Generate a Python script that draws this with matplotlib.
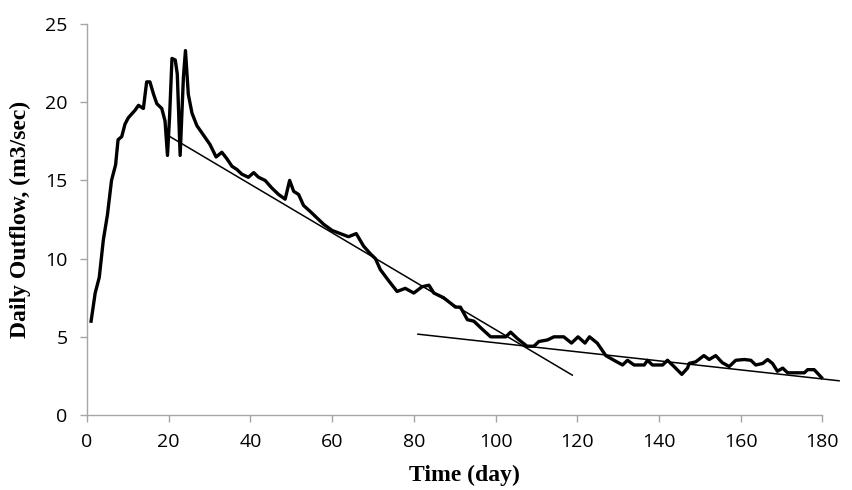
import matplotlib
matplotlib.use('Agg')
import matplotlib.pyplot as plt

GRAY = '#a6a6a6'

# daily outflow
days = [1, 2, 3, 4, 5, 6, 7, 7.6, 8.5, 9.3, 10.1, 11.8, 12.6, 13.8, 14.6, 15.4,
        16.3, 17.1, 18.3, 19.1, 19.7, 20.2, 20.8, 21.6, 22.1, 22.8, 23.6, 24.1,
        24.8, 25.7, 26.9, 28.5, 30.1, 31.6, 33.0, 34.2, 35.5, 36.7, 37.9, 39.5,
        40.8, 42.0, 43.6, 45.3, 46.9, 48.5, 49.6, 50.6, 51.8, 53.0, 54.7, 56.3,
        57.9, 60.0, 62.0, 64.0, 65.9, 67.7, 69.4, 70.6, 71.8, 73.8, 75.9, 77.9,
        80.0, 82.0, 83.7, 84.9, 87.3, 90.2, 91.4, 93.1, 94.7, 96.7, 98.8, 101.2,
        102.5, 103.7, 105.3, 107.7, 109.4, 110.6, 112.7, 114.3, 116.7, 118.6,
        120.2, 121.9, 123.0, 124.9, 127.0, 129.0, 131.1, 132.3, 133.9, 136.4,
        137.2, 138.4, 140.9, 142.1, 143.7, 145.6, 147.0, 147.4, 149.0, 151.0,
        152.3, 153.9, 155.5, 157.2, 158.8, 160.9, 162.5, 163.7, 165.4, 166.6,
        167.8, 169.0, 170.3, 171.5, 175.6, 176.4, 178.0, 179.8]
outflow = [6.0, 7.8, 8.8, 11.2, 12.8, 15.0, 16.0, 17.6, 17.8, 18.6, 19.0, 19.5,
           19.8, 19.6, 21.3, 21.3, 20.5, 19.9, 19.6, 18.8, 16.6, 19.0, 22.8, 22.7,
           21.8, 16.6, 21.6, 23.3, 20.5, 19.3, 18.5, 17.9, 17.3, 16.5, 16.8, 16.4,
           15.9, 15.7, 15.4, 15.2, 15.5, 15.2, 15.0, 14.5, 14.1, 13.8, 15.0, 14.3,
           14.1, 13.4, 13.0, 12.6, 12.2, 11.8, 11.6, 11.4, 11.6, 10.8, 10.3, 10.0,
           9.3, 8.6, 7.9, 8.1, 7.8, 8.2, 8.3, 7.8, 7.5, 6.9, 6.9, 6.1, 6.0, 5.5,
           5.0, 5.0, 5.0, 5.3, 4.9, 4.4, 4.4, 4.7, 4.8, 5.0, 5.0, 4.6, 5.0, 4.6,
           5.0, 4.6, 3.8, 3.5, 3.2, 3.5, 3.2, 3.2, 3.5, 3.2, 3.2, 3.5, 3.1, 2.6,
           3.0, 3.3, 3.4, 3.8, 3.55, 3.8, 3.35, 3.1, 3.5, 3.55, 3.5, 3.2, 3.3,
           3.55, 3.3, 2.8, 3.0, 2.7, 2.7, 2.9, 2.9, 2.4]

# recession trend lines (start / end)
trend1_x = [20.3, 118.8]
trend1_y = [17.8, 2.55]
trend2_x = [81.0, 184.1]
trend2_y = [5.17, 2.19]

xticks = list(range(0, 181, 20))
yticks = [0, 5, 10, 15, 20, 25]

fig = plt.figure(figsize=(8.53, 4.90), dpi=100)
ax = fig.add_axes([0.102, 0.153, 0.886, 0.798])

ax.plot(days, outflow, color='black', lw=2.4, solid_joinstyle='round')
ax.plot(trend1_x, trend1_y, color='black', lw=1.1)
ax.plot(trend2_x, trend2_y, color='black', lw=1.1)

ax.set_xlim(0, 185)
ax.set_ylim(0, 25)
ax.set_xticks(xticks)
ax.set_yticks(yticks)
for s in ['top', 'right']:
    ax.spines[s].set_visible(False)
for s in ['left', 'bottom']:
    ax.spines[s].set_color(GRAY)
    ax.spines[s].set_linewidth(1.0)
ax.spines['bottom'].set_bounds(0, 180)
ax.tick_params(colors=GRAY, length=5, width=1.0, labelcolor='black', labelsize=14)
ax.tick_params(axis='x', pad=8)
ax.tick_params(axis='y', pad=9)
for lab in ax.get_xticklabels() + ax.get_yticklabels():
    lab.set_family('Open Sans')

ax.set_xlabel('Time (day)', family='Liberation Serif', fontweight='bold', fontsize=17, labelpad=10)
ax.set_ylabel('Daily Outflow, (m3/sec)', family='Liberation Serif', fontweight='bold', fontsize=17, labelpad=10)

fig.savefig('out.png', dpi=100)
